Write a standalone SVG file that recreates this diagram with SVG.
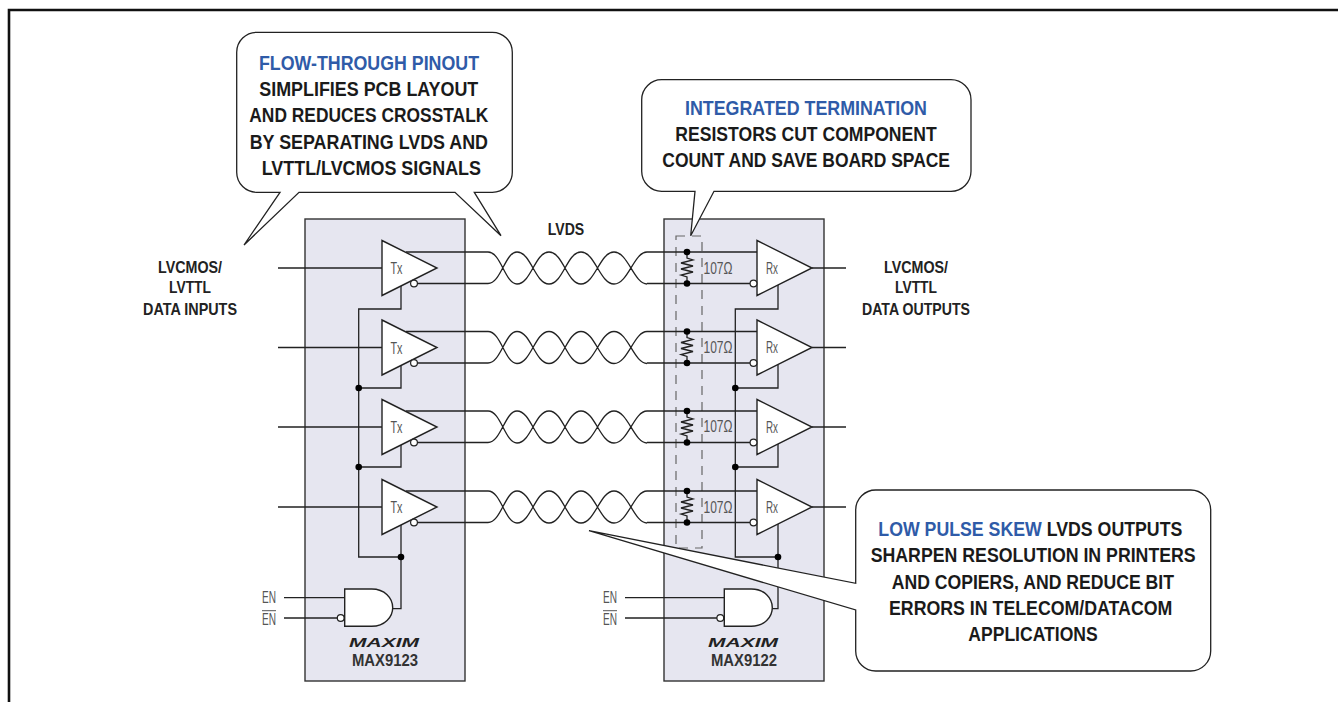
<svg xmlns="http://www.w3.org/2000/svg" xmlns:xlink="http://www.w3.org/1999/xlink" width="1338" height="702" viewBox="0 0 1338 702">
<style>
.w{fill:none;stroke:#222;stroke-width:1.3}
.b{fill:#e6e6f0;stroke:#333;stroke-width:1.4}
.s{fill:#fff;stroke:#222;stroke-width:1.4}
.o{fill:#fff;stroke:#222;stroke-width:1.2}
.d{fill:#000;stroke:none}
.dash{fill:none;stroke:#666;stroke-width:1.2;stroke-dasharray:9 7}
.c{fill:#fff;stroke:#222;stroke-width:1.3;stroke-linejoin:miter}
text{font-family:"Liberation Sans",Arial,sans-serif}
.t{font-size:20px;font-weight:bold;fill:#1a1a1a}
.h{font-size:20px;font-weight:bold;fill:#2f5ba8}
.l{font-size:16.5px;font-weight:bold;fill:#222}
.g{font-size:16px;fill:#555}
.m{font-size:17px;font-weight:bold;fill:#333}
.lg{font-size:12px;font-weight:bold;font-style:italic;fill:#222}
</style>
<defs>
<path id="twist" class="w" d="M406,-16H488C501,-16 505,16 517,16C531,16 535,-16 549,-16C563,-16 567,16 581,16C595,16 600,-16 614,-16C628,-16 634,16 647,16M414,15.500H488C501,15.500 505,-16 517,-16C531,-16 535,16 549,16C563,16 567,-16 581,-16C595,-16 600,16 614,16C628,16 634,-16 647,-16"/>
<path id="rxw" class="w" d="M647,-16H757M647,15.500H750M846,0H812"/>
<path id="res" class="w" d="M687,-16V-10L693,-8L681,-5L693,-2L681,1L693,4L681,7L687,9V15.500"/>
<path id="tri" class="s" d="M0,-27.500L55,0L0,27.500Z"/>
<path id="gate" class="s" d="M0,0H27C40,0 48,9 48,18.700C48,28 40,37.300 27,37.300H0Z"/>
</defs>

<path id="frame" d="M9,702V10H1338" fill="none" stroke="#111" stroke-width="2.6"/>

<g id="max9123">
<rect class="b" x="305" y="219" width="160" height="462"/>
<text class="lg" x="349" y="647" textLength="70" lengthAdjust="spacingAndGlyphs">MAXIM</text>
<text class="m" x="352" y="665.500" textLength="66" lengthAdjust="spacingAndGlyphs">MAX9123</text>
</g>
<g id="max9122">
<rect class="b" x="664" y="219" width="160" height="462"/>
<text class="lg" x="708" y="647" textLength="70" lengthAdjust="spacingAndGlyphs">MAXIM</text>
<text class="m" x="711" y="665.500" textLength="66" lengthAdjust="spacingAndGlyphs">MAX9122</text>
</g>

<rect id="termination" class="dash" x="676" y="236" width="26" height="312"/>

<g id="connectors">
<use xlink:href="#twist" href="#twist" transform="translate(0,268)"/>
<use xlink:href="#twist" href="#twist" transform="translate(0,347.500)"/>
<use xlink:href="#twist" href="#twist" transform="translate(0,427)"/>
<use xlink:href="#twist" href="#twist" transform="translate(0,507)"/>
<path class="w" d="M278,268H382M278,347.500H382M278,427H382M278,507H382"/>
<path class="w" d="M401,285V309H358.700V557H401M401,365V388H358.700M401,444V467H358.700M401,524V608.700H392"/>
<use xlink:href="#rxw" href="#rxw" transform="translate(0,268)"/>
<use xlink:href="#rxw" href="#rxw" transform="translate(0,347.500)"/>
<use xlink:href="#rxw" href="#rxw" transform="translate(0,427)"/>
<use xlink:href="#rxw" href="#rxw" transform="translate(0,507)"/>
<use xlink:href="#res" href="#res" transform="translate(0,268)"/>
<use xlink:href="#res" href="#res" transform="translate(0,347.500)"/>
<use xlink:href="#res" href="#res" transform="translate(0,427)"/>
<use xlink:href="#res" href="#res" transform="translate(0,507)"/>
<path class="w" d="M778,285V309H735.300V557H778M778,365V388H735.300M778,444V467H735.300M778,524V608.700H772"/>
<path class="w" d="M284,597.700H345M284,618H338M625,597.700H724M625,618H717"/>
<g class="d">
<circle cx="358.700" cy="388" r="3.300"/><circle cx="358.700" cy="467" r="3.300"/><circle cx="401" cy="557" r="3.300"/>
<circle cx="735.300" cy="388" r="3.300"/><circle cx="735.300" cy="467" r="3.300"/><circle cx="778" cy="557" r="3.300"/>
<circle cx="687" cy="252" r="3.300"/><circle cx="687" cy="283.500" r="3.300"/>
<circle cx="687" cy="331.500" r="3.300"/><circle cx="687" cy="363" r="3.300"/>
<circle cx="687" cy="411" r="3.300"/><circle cx="687" cy="442.500" r="3.300"/>
<circle cx="687" cy="491" r="3.300"/><circle cx="687" cy="522.500" r="3.300"/>
</g>
</g>

<g id="tx1"><use xlink:href="#tri" href="#tri" transform="translate(382,268)"/><circle class="o" cx="414" cy="283.500" r="3.400"/><text class="g" x="390.500" y="274" textLength="12" lengthAdjust="spacingAndGlyphs">Tx</text></g>
<g id="tx2"><use xlink:href="#tri" href="#tri" transform="translate(382,347.500)"/><circle class="o" cx="414" cy="363" r="3.400"/><text class="g" x="390.500" y="353.500" textLength="12" lengthAdjust="spacingAndGlyphs">Tx</text></g>
<g id="tx3"><use xlink:href="#tri" href="#tri" transform="translate(382,427)"/><circle class="o" cx="414" cy="442.500" r="3.400"/><text class="g" x="390.500" y="433" textLength="12" lengthAdjust="spacingAndGlyphs">Tx</text></g>
<g id="tx4"><use xlink:href="#tri" href="#tri" transform="translate(382,507)"/><circle class="o" cx="414" cy="522.500" r="3.400"/><text class="g" x="390.500" y="513" textLength="12" lengthAdjust="spacingAndGlyphs">Tx</text></g>

<g id="rx1"><use xlink:href="#tri" href="#tri" transform="translate(757,268)"/><circle class="o" cx="753.500" cy="283.500" r="3.400"/><text class="g" x="766" y="273.500" textLength="12" lengthAdjust="spacingAndGlyphs">Rx</text></g>
<g id="rx2"><use xlink:href="#tri" href="#tri" transform="translate(757,347.500)"/><circle class="o" cx="753.500" cy="363" r="3.400"/><text class="g" x="766" y="353" textLength="12" lengthAdjust="spacingAndGlyphs">Rx</text></g>
<g id="rx3"><use xlink:href="#tri" href="#tri" transform="translate(757,427)"/><circle class="o" cx="753.500" cy="442.500" r="3.400"/><text class="g" x="766" y="432.500" textLength="12" lengthAdjust="spacingAndGlyphs">Rx</text></g>
<g id="rx4"><use xlink:href="#tri" href="#tri" transform="translate(757,507)"/><circle class="o" cx="753.500" cy="522.500" r="3.400"/><text class="g" x="766" y="512.500" textLength="12" lengthAdjust="spacingAndGlyphs">Rx</text></g>

<g id="r1"><text class="g" x="703.500" y="274" textLength="29" lengthAdjust="spacingAndGlyphs">107Ω</text></g>
<g id="r2"><text class="g" x="703.500" y="352.500" textLength="29" lengthAdjust="spacingAndGlyphs">107Ω</text></g>
<g id="r3"><text class="g" x="703.500" y="432" textLength="29" lengthAdjust="spacingAndGlyphs">107Ω</text></g>
<g id="r4"><text class="g" x="703.500" y="512.500" textLength="29" lengthAdjust="spacingAndGlyphs">107Ω</text></g>

<g id="and1"><use xlink:href="#gate" href="#gate" transform="translate(344.700,589)"/><circle class="o" cx="340.700" cy="618" r="3.400"/></g>
<g id="and2"><use xlink:href="#gate" href="#gate" transform="translate(724.300,589)"/><circle class="o" cx="720.300" cy="618" r="3.400"/></g>

<g id="en1">
<text class="g" x="262" y="602.500" textLength="14" lengthAdjust="spacingAndGlyphs">EN</text>
<text class="g" x="262" y="624.500" textLength="14" lengthAdjust="spacingAndGlyphs">EN</text>
<path d="M262,610.700H276" stroke="#555" stroke-width="1"/>
</g>
<g id="en2">
<text class="g" x="603" y="602.500" textLength="14" lengthAdjust="spacingAndGlyphs">EN</text>
<text class="g" x="603" y="624.500" textLength="14" lengthAdjust="spacingAndGlyphs">EN</text>
<path d="M603,610.700H617" stroke="#555" stroke-width="1"/>
</g>

<g id="label-in">
<text class="l" x="158" y="273.300" textLength="64" lengthAdjust="spacingAndGlyphs">LVCMOS/</text>
<text class="l" x="169" y="293.300" textLength="42" lengthAdjust="spacingAndGlyphs">LVTTL</text>
<text class="l" x="143" y="315" textLength="94" lengthAdjust="spacingAndGlyphs">DATA INPUTS</text>
</g>
<g id="label-out">
<text class="l" x="884" y="273.300" textLength="64" lengthAdjust="spacingAndGlyphs">LVCMOS/</text>
<text class="l" x="895" y="293.300" textLength="42" lengthAdjust="spacingAndGlyphs">LVTTL</text>
<text class="l" x="862" y="315" textLength="108" lengthAdjust="spacingAndGlyphs">DATA OUTPUTS</text>
</g>
<g id="label-lvds"><text class="l" x="547.700" y="235" textLength="36.500" lengthAdjust="spacingAndGlyphs">LVDS</text></g>

<g id="callout-flow">
<path class="c" d="M257,32.300H492A20,20 0 0 1 512.300,52.300V172.300A20,20 0 0 1 492,192.300H474.300L501,235.700L455,192.300H299L244,245L280,192.300H257A20,20 0 0 1 236.700,172.300V52.300A20,20 0 0 1 257,32.300Z"/>
<text class="h" x="259" y="70" textLength="220" lengthAdjust="spacingAndGlyphs">FLOW-THROUGH PINOUT</text>
<text class="t" x="259.300" y="96" textLength="219" lengthAdjust="spacingAndGlyphs">SIMPLIFIES PCB LAYOUT</text>
<text class="t" x="249.300" y="122" textLength="239" lengthAdjust="spacingAndGlyphs">AND REDUCES CROSSTALK</text>
<text class="t" x="249.700" y="148.700" textLength="238.300" lengthAdjust="spacingAndGlyphs">BY SEPARATING LVDS AND</text>
<text class="t" x="261.700" y="175" textLength="219.300" lengthAdjust="spacingAndGlyphs">LVTTL/LVCMOS SIGNALS</text>
</g>

<g id="callout-term">
<path class="c" d="M662,79.700H951A20,20 0 0 1 971,99.700V171.300A20,20 0 0 1 951,191.300H714L690.700,235.700L695,191.300H662A20,20 0 0 1 641.700,171.300V99.700A20,20 0 0 1 662,79.700Z"/>
<text class="h" x="685" y="115" textLength="242" lengthAdjust="spacingAndGlyphs">INTEGRATED TERMINATION</text>
<text class="t" x="675.300" y="141" textLength="261.400" lengthAdjust="spacingAndGlyphs">RESISTORS CUT COMPONENT</text>
<text class="t" x="662.300" y="167" textLength="287.700" lengthAdjust="spacingAndGlyphs">COUNT AND SAVE BOARD SPACE</text>
</g>

<g id="callout-skew">
<path class="c" d="M876,490H1190.700A20,20 0 0 1 1210.700,510V651A20,20 0 0 1 1190.700,671H876A20,20 0 0 1 855.700,651V610L589,530.700L855.700,583.300V510A20,20 0 0 1 876,490Z"/>
<text class="t" x="878.300" y="535.700" textLength="304" lengthAdjust="spacingAndGlyphs"><tspan fill="#2f5ba8">LOW PULSE SKEW</tspan> LVDS OUTPUTS</text>
<text class="t" x="870.700" y="562" textLength="325" lengthAdjust="spacingAndGlyphs">SHARPEN RESOLUTION IN PRINTERS</text>
<text class="t" x="891.700" y="589" textLength="282.300" lengthAdjust="spacingAndGlyphs">AND COPIERS, AND REDUCE BIT</text>
<text class="t" x="889" y="615" textLength="283.300" lengthAdjust="spacingAndGlyphs">ERRORS IN TELECOM/DATACOM</text>
<text class="t" x="968.300" y="641.300" textLength="129.400" lengthAdjust="spacingAndGlyphs">APPLICATIONS</text>
</g>
</svg>
